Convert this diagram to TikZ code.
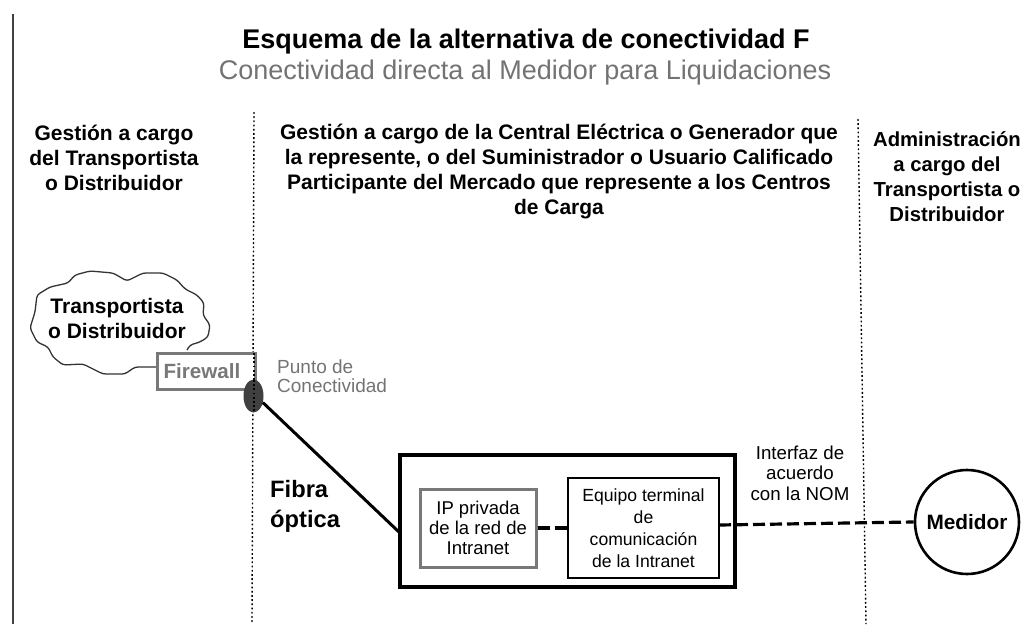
\documentclass[tikz,border=0pt]{standalone}
\usepackage{fontspec}
\usetikzlibrary{shapes.geometric}
\setmainfont{Liberation Sans}
\definecolor{grayline}{gray}{0.47}
\definecolor{graytext}{gray}{0.45}
\definecolor{darkoval}{gray}{0.25}
\newcommand{\fs}[1]{\fontsize{#1}{#1}\selectfont}
\newcommand{\lns}[2]{\fontsize{#1}{#2}\selectfont}
\tikzset{
  lbl/.style={inner sep=0pt,align=center,text=black},
  hdr/.style={lbl,font=\bfseries\lns{21}{25}},
  small/.style={lbl,font=\lns{17}{21.5}},
  dotline/.style={line width=1.4pt,dash pattern=on 1.8pt off 2.4pt},
  dashline/.style={line width=3.2pt,dash pattern=on 12pt off 5pt},
  graybox/.style={draw=grayline,line width=3pt,inner sep=0pt},
}
\begin{document}
\begin{tikzpicture}[x=1pt,y=-1pt]
\useasboundingbox (0,0) rectangle (1023,624);
% frame and column separators
\coordinate (frameT) at (13,14);
\coordinate (frameB) at (13,624);
\draw[line width=1.6pt,black!75] (frameT) -- (frameB);
\coordinate (sepAT) at (254,112);
\coordinate (sepAB) at (252,624);
\draw[dotline] (sepAT) -- (sepAB);
\coordinate (sepBT) at (858,119);
\coordinate (sepBB) at (866,624);
\draw[dotline] (sepBT) -- (sepBB);
% titles
\node[lbl,font=\bfseries\fs{27}] (title) at (526,42) {Esquema de la alternativa de conectividad F};
\node[lbl,font=\fs{27},text=graytext] (subtitle) at (525,73) {Conectividad directa al Medidor para Liquidaciones};
% column headers
\node[hdr] (colA) at (114,158) {Gestión a cargo\\del Transportista\\o Distribuidor};
\node[hdr] (colB) at (559,172) {Gestión a cargo de la Central Eléctrica o Generador que\\la represente, o del Suministrador o Usuario Calificado\\Participante del Mercado que represente a los Centros\\de Carga};
\node[lbl,font=\bfseries\lns{20.3}{25}] (colC) at (947,177) {Administración\\a cargo del\\Transportista o\\Distribuidor};
% cloud
\draw[line width=1.3pt,black!80,rounded corners=3pt]
  (187,350) -- (190,345) -- (200,342) -- (208,337) -- (210,325) -- (203,315) -- (204,303) -- (197,295) -- (185,289) -- (177,280) -- (163,273) -- (143,273) -- (127,281) -- (113,273) -- (90,271) -- (75,275) -- (68,283) -- (50,287) -- (37,295) -- (35,312) -- (30,328) -- (37,342) -- (48,347) -- (53,357) -- (63,365) -- (83,364) -- (103,374) -- (125,374) -- (135,367) -- (157,367);
\node[hdr] (cloudtxt) at (117,318) {Transportista\\o Distribuidor};
% firewall and connectivity point
\node[graybox,fill=white,minimum width=98pt,minimum height=36pt,font=\bfseries\fs{20.6},text=grayline] (firewall) at (206,371) {\hspace*{-8pt}Firewall};
\draw[dotline] (254,353) -- (254,400);
\node[draw=none,fill=darkoval,ellipse,minimum width=20pt,minimum height=33pt,inner sep=0pt] (punto) at (253.5,396) {};
\draw[dotline,black] (254,380) -- (254,412);
\node[lbl,align=left,anchor=west,text=graytext,font=\lns{19}{19}] (puntotxt) at (277,376.5) {Punto de\\Conectividad};
% fibre
\node[draw,line width=3.5pt,minimum width=335pt,minimum height=132pt,inner sep=0pt] (red) at (567.5,521) {};
\coordinate (fibreEnd) at (400,533);
\draw[line width=3pt] (punto.-35) -- (fibreEnd);
\node[lbl,align=left,anchor=west,font=\bfseries\lns{23.7}{30}] (fibra) at (270,506) {Fibra\\óptica};
% inner boxes
\node[graybox,align=center,minimum width=116pt,minimum height=78pt,font=\lns{18.5}{20}] (ip) at (478,528) {IP privada\\de la red de\\Intranet};
\node[draw,line width=1.2pt,minimum width=151pt,minimum height=100pt,inner sep=0pt,align=center,font=\lns{17.6}{22}] (term) at (643.5,528) {Equipo terminal\\de\\comunicación\\de la Intranet};
\draw[dashline] (ip.east) -- (term.west);
% meter
\node[draw,circle,line width=2.6pt,minimum size=104pt,inner sep=0pt,font=\bfseries\fs{20.8}] (medidor) at (967,522) {Medidor};
\coordinate (termOut) at (719,525);
\draw[dashline] (termOut) -- (medidor.west);
\node[lbl,font=\lns{18.7}{20.5}] (interfaz) at (800,473) {Interfaz de\\acuerdo\\con la NOM};
\end{tikzpicture}
\end{document}
